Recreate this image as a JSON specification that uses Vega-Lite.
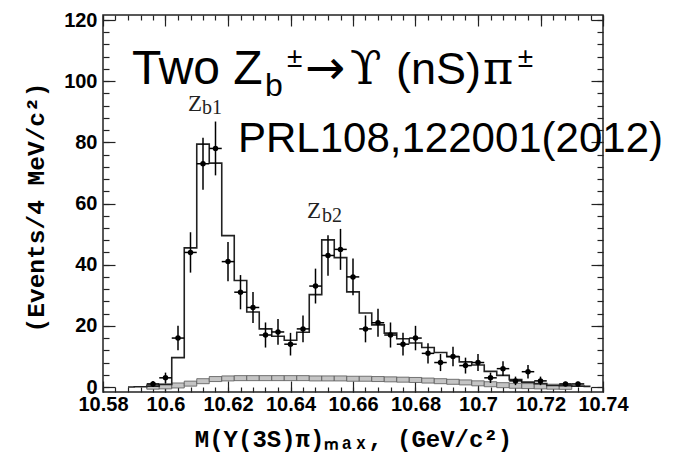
{
  "$schema": "https://vega.github.io/schema/vega-lite/v6.json",
  "width": 500,
  "height": 377,
  "autosize": "none",
  "padding": {"left": 103, "top": 15, "right": 77, "bottom": 62},
  "background": "white",
  "config": {
    "view": {"stroke": "#222", "strokeWidth": 1.5},
    "axis": {"grid": false, "tickColor": "#222", "tickWidth": 1.2, "labelFont": "Liberation Sans", "labelFontWeight": "bold", "labelFontSize": 20, "labelColor": "black", "titleFont": "Liberation Mono", "titleFontWeight": "bold", "titleColor": "black", "zindex": 1},
    "text": {"align": "left", "baseline": "alphabetic", "color": "black"}
  },
  "datasets": {
    "bins": [
      {"m": 10.588, "xl": 10.586, "xh": 10.590, "fit": 0, "bkg": 0},
      {"m": 10.592, "xl": 10.590, "xh": 10.594, "fit": 0.1, "bkg": 0},
      {"m": 10.596, "n": 1, "lo": 0, "hi": 2, "xl": 10.594, "xh": 10.598, "fit": 0.3, "bkg": 0.1},
      {"m": 10.600, "n": 3, "lo": 1.3, "hi": 4.7, "xl": 10.598, "xh": 10.602, "fit": 0.8, "bkg": 0.2},
      {"m": 10.604, "n": 16, "lo": 12, "hi": 20, "xl": 10.602, "xh": 10.606, "fit": 9.6, "bkg": 0.5},
      {"m": 10.608, "n": 44, "lo": 37.4, "hi": 50.6, "xl": 10.606, "xh": 10.610, "fit": 45.5, "bkg": 1.1},
      {"m": 10.612, "n": 73, "lo": 64.5, "hi": 81.5, "xl": 10.610, "xh": 10.614, "fit": 79.4, "bkg": 1.9},
      {"m": 10.616, "n": 78, "lo": 69.2, "hi": 86.8, "xl": 10.614, "xh": 10.618, "fit": 73.2, "bkg": 2.6},
      {"m": 10.620, "n": 41, "lo": 34.6, "hi": 47.4, "xl": 10.618, "xh": 10.622, "fit": 49.5, "bkg": 2.8},
      {"m": 10.624, "n": 31, "lo": 25.4, "hi": 36.6, "xl": 10.622, "xh": 10.626, "fit": 34.8, "bkg": 2.9},
      {"m": 10.628, "n": 26, "lo": 20.9, "hi": 31.1, "xl": 10.626, "xh": 10.630, "fit": 24.5, "bkg": 2.9},
      {"m": 10.632, "n": 17, "lo": 12.9, "hi": 21.1, "xl": 10.630, "xh": 10.634, "fit": 19.0, "bkg": 2.9},
      {"m": 10.636, "n": 18, "lo": 13.8, "hi": 22.2, "xl": 10.634, "xh": 10.638, "fit": 16.6, "bkg": 2.9},
      {"m": 10.640, "n": 14, "lo": 10.3, "hi": 17.7, "xl": 10.638, "xh": 10.642, "fit": 15.3, "bkg": 2.9},
      {"m": 10.644, "n": 19, "lo": 14.6, "hi": 23.4, "xl": 10.642, "xh": 10.646, "fit": 17.9, "bkg": 2.9},
      {"m": 10.648, "n": 33, "lo": 27.3, "hi": 38.7, "xl": 10.646, "xh": 10.650, "fit": 30.2, "bkg": 2.8},
      {"m": 10.652, "n": 43, "lo": 36.4, "hi": 49.6, "xl": 10.650, "xh": 10.654, "fit": 48.1, "bkg": 2.8},
      {"m": 10.656, "n": 45, "lo": 38.3, "hi": 51.7, "xl": 10.654, "xh": 10.658, "fit": 42.3, "bkg": 2.8},
      {"m": 10.660, "n": 36, "lo": 30, "hi": 42, "xl": 10.658, "xh": 10.662, "fit": 31.1, "bkg": 2.7},
      {"m": 10.664, "n": 19, "lo": 14.6, "hi": 23.4, "xl": 10.662, "xh": 10.666, "fit": 24.2, "bkg": 2.7},
      {"m": 10.668, "n": 21, "lo": 16.4, "hi": 25.6, "xl": 10.666, "xh": 10.670, "fit": 20.3, "bkg": 2.6},
      {"m": 10.672, "n": 17, "lo": 12.9, "hi": 21.1, "xl": 10.670, "xh": 10.674, "fit": 17.6, "bkg": 2.5},
      {"m": 10.676, "n": 14, "lo": 10.3, "hi": 17.7, "xl": 10.674, "xh": 10.678, "fit": 15.8, "bkg": 2.4},
      {"m": 10.680, "n": 16, "lo": 12, "hi": 20, "xl": 10.678, "xh": 10.682, "fit": 14.4, "bkg": 2.3},
      {"m": 10.684, "n": 11, "lo": 7.7, "hi": 14.3, "xl": 10.682, "xh": 10.686, "fit": 12.9, "bkg": 2.1},
      {"m": 10.688, "n": 8, "lo": 5.2, "hi": 10.8, "xl": 10.686, "xh": 10.690, "fit": 11.3, "bkg": 1.9},
      {"m": 10.692, "n": 10, "lo": 6.8, "hi": 13.2, "xl": 10.690, "xh": 10.694, "fit": 9.9, "bkg": 1.7},
      {"m": 10.696, "n": 7, "lo": 4.4, "hi": 9.6, "xl": 10.694, "xh": 10.698, "fit": 8.2, "bkg": 1.5},
      {"m": 10.700, "n": 8, "lo": 5.2, "hi": 10.8, "xl": 10.698, "xh": 10.702, "fit": 7.2, "bkg": 1.2},
      {"m": 10.704, "n": 3, "lo": 1.3, "hi": 4.7, "xl": 10.702, "xh": 10.706, "fit": 5.1, "bkg": 0.9},
      {"m": 10.708, "n": 6, "lo": 3.6, "hi": 8.4, "xl": 10.706, "xh": 10.710, "fit": 3.8, "bkg": 0.6},
      {"m": 10.712, "n": 2, "lo": 0.6, "hi": 3.4, "xl": 10.710, "xh": 10.714, "fit": 2.4, "bkg": 0.4},
      {"m": 10.716, "n": 5, "lo": 2.8, "hi": 7.2, "xl": 10.714, "xh": 10.718, "fit": 1.6, "bkg": 0.3},
      {"m": 10.720, "n": 2, "lo": 0.6, "hi": 3.4, "xl": 10.718, "xh": 10.722, "fit": 1.1, "bkg": 0.2},
      {"m": 10.724, "xl": 10.722, "xh": 10.726, "fit": 0.5, "bkg": 0.1},
      {"m": 10.728, "n": 1, "lo": 0.3, "hi": 1.7, "xl": 10.726, "xh": 10.730, "fit": 0.4, "bkg": 0.05},
      {"m": 10.732, "n": 1, "lo": 0.3, "hi": 1.7, "xl": 10.730, "xh": 10.734, "fit": 0.3, "bkg": 0},
      {"m": 10.736, "xl": 10.734, "xh": 10.738, "fit": 0.2, "bkg": 0}
    ]
  },
  "layer": [
    {
      "data": {"name": "bins"},
      "transform": [{"filter": "datum.bkg > 0"}],
      "mark": {"type": "bar", "fill": "#c4c4c4", "stroke": "#555", "strokeWidth": 0.8},
      "encoding": {
        "x": {"field": "xl", "type": "quantitative", "scale": {"domain": [10.58, 10.74], "nice": false, "zero": false},
              "axis": {"orient": "bottom", "values": [10.58, 10.6, 10.62, 10.64, 10.66, 10.68, 10.7, 10.72, 10.74], "format": ".2~f", "ticks": false, "domain": false, "labelPadding": 2, "labelFlush": false, "labelOverlap": false, "title": "M(Υ(3S)π)ₘₐₓ, (GeV/c²)", "titleFontSize": 24, "titleY": 54, "titleBaseline": "alphabetic"}},
        "x2": {"field": "xh"},
        "y": {"field": "bkg", "type": "quantitative", "scale": {"domain": [0, 120], "nice": false},
              "axis": {"orient": "left", "values": [0, 20, 40, 60, 80, 100, 120], "format": "d", "ticks": false, "domain": false, "labelPadding": 6, "title": "(Events/4 MeV/c²)", "titleFontSize": 24.5, "titleX": -60, "titleY": 192, "titleAngle": -90, "titleBaseline": "alphabetic"}}
      }
    },
    {
      "data": {"name": "bins"},
      "mark": {"type": "line", "interpolate": "step", "color": "#222", "strokeWidth": 1.6},
      "encoding": {
        "x": {"field": "m", "type": "quantitative", "scale": {"domain": [10.58, 10.74], "nice": false, "zero": false},
              "axis": {"orient": "bottom", "values": [10.58, 10.6, 10.62, 10.64, 10.66, 10.68, 10.7, 10.72, 10.74], "tickSize": -11, "labels": false, "domain": false, "title": null}},
        "y": {"field": "fit", "type": "quantitative", "scale": {"domain": [0, 120], "nice": false},
              "axis": {"orient": "left", "values": [0, 20, 40, 60, 80, 100, 120], "tickSize": -12, "labels": false, "domain": false, "title": null}}
      }
    },
    {
      "data": {"name": "bins"},
      "transform": [{"filter": "isValid(datum.n)"}],
      "mark": {"type": "rule", "color": "black", "strokeWidth": 1.5},
      "encoding": {
        "x": {"field": "m", "type": "quantitative", "scale": {"domain": [10.58, 10.74], "nice": false, "zero": false},
              "axis": {"orient": "bottom", "values": [10.58, 10.584, 10.588, 10.592, 10.596, 10.6, 10.604, 10.608, 10.612, 10.616, 10.62, 10.624, 10.628, 10.632, 10.636, 10.64, 10.644, 10.648, 10.652, 10.656, 10.66, 10.664, 10.668, 10.672, 10.676, 10.68, 10.684, 10.688, 10.692, 10.696, 10.7, 10.704, 10.708, 10.712, 10.716, 10.72, 10.724, 10.728, 10.732, 10.736, 10.74], "tickSize": -5, "labels": false, "domain": false, "title": null}},
        "y": {"field": "lo", "type": "quantitative", "scale": {"domain": [0, 120], "nice": false},
              "axis": {"orient": "left", "values": [0, 4, 8, 12, 16, 20, 24, 28, 32, 36, 40, 44, 48, 52, 56, 60, 64, 68, 72, 76, 80, 84, 88, 92, 96, 100, 104, 108, 112, 116, 120], "tickSize": -6, "labels": false, "domain": false, "title": null}},
        "y2": {"field": "hi"}
      }
    },
    {
      "data": {"name": "bins"},
      "transform": [{"filter": "isValid(datum.n)"}],
      "mark": {"type": "rule", "color": "black", "strokeWidth": 1.5},
      "encoding": {
        "x": {"field": "xl", "type": "quantitative", "scale": {"domain": [10.58, 10.74], "nice": false, "zero": false},
              "axis": {"orient": "top", "values": [10.58, 10.6, 10.62, 10.64, 10.66, 10.68, 10.7, 10.72, 10.74], "tickSize": -11, "labels": false, "domain": false, "title": null}},
        "x2": {"field": "xh"},
        "y": {"field": "n", "type": "quantitative", "scale": {"domain": [0, 120], "nice": false},
              "axis": {"orient": "right", "values": [0, 20, 40, 60, 80, 100, 120], "tickSize": -12, "labels": false, "domain": false, "title": null}}
      }
    },
    {
      "data": {"name": "bins"},
      "transform": [{"filter": "isValid(datum.n)"}],
      "mark": {"type": "circle", "color": "black", "opacity": 1, "size": 30},
      "encoding": {
        "x": {"field": "m", "type": "quantitative", "scale": {"domain": [10.58, 10.74], "nice": false, "zero": false},
              "axis": {"orient": "top", "values": [10.58, 10.584, 10.588, 10.592, 10.596, 10.6, 10.604, 10.608, 10.612, 10.616, 10.62, 10.624, 10.628, 10.632, 10.636, 10.64, 10.644, 10.648, 10.652, 10.656, 10.66, 10.664, 10.668, 10.672, 10.676, 10.68, 10.684, 10.688, 10.692, 10.696, 10.7, 10.704, 10.708, 10.712, 10.716, 10.72, 10.724, 10.728, 10.732, 10.736, 10.74], "tickSize": -5, "labels": false, "domain": false, "title": null}},
        "y": {"field": "n", "type": "quantitative", "scale": {"domain": [0, 120], "nice": false},
              "axis": {"orient": "right", "values": [0, 4, 8, 12, 16, 20, 24, 28, 32, 36, 40, 44, 48, 52, 56, 60, 64, 68, 72, 76, 80, 84, 88, 92, 96, 100, 104, 108, 112, 116, 120], "tickSize": -6, "labels": false, "domain": false, "title": null}}
      }
    },
    {
      "data": {"values": [{"x": 10.58928, "y": 99.0, "t": "Two Z"}]},
      "mark": {"type": "text", "font": "Liberation Sans", "fontSize": 48},
      "encoding": {
        "x": {"field": "x", "type": "quantitative", "scale": {"domain": [10.58, 10.74], "nice": false, "zero": false}, "axis": null},
        "y": {"field": "y", "type": "quantitative", "scale": {"domain": [0, 120], "nice": false}, "axis": null},
        "text": {"field": "t"}
      }
    },
    {
      "data": {"values": [{"x": 10.63184, "y": 95.2, "t": "b"}]},
      "mark": {"type": "text", "font": "Liberation Sans", "fontSize": 32},
      "encoding": {
        "x": {"field": "x", "type": "quantitative", "scale": {"domain": [10.58, 10.74], "nice": false, "zero": false}, "axis": null},
        "y": {"field": "y", "type": "quantitative", "scale": {"domain": [0, 120], "nice": false}, "axis": null},
        "text": {"field": "t"}
      }
    },
    {
      "data": {"values": [{"x": 10.63888, "y": 104.7, "t": "±"}, {"x": 10.7127, "y": 104.7, "t": "±"}]},
      "mark": {"type": "text", "font": "Liberation Sans", "fontSize": 28},
      "encoding": {
        "x": {"field": "x", "type": "quantitative", "scale": {"domain": [10.58, 10.74], "nice": false, "zero": false}, "axis": null},
        "y": {"field": "y", "type": "quantitative", "scale": {"domain": [0, 120], "nice": false}, "axis": null},
        "text": {"field": "t"}
      }
    },
    {
      "data": {"values": [{"x": 10.64464, "y": 99.0, "t": "→"}]},
      "mark": {"type": "text", "font": "DejaVu Sans", "fontSize": 48},
      "encoding": {
        "x": {"field": "x", "type": "quantitative", "scale": {"domain": [10.58, 10.74], "nice": false, "zero": false}, "axis": null},
        "y": {"field": "y", "type": "quantitative", "scale": {"domain": [0, 120], "nice": false}, "axis": null},
        "text": {"field": "t"}
      }
    },
    {
      "data": {"values": [{"x": 10.65904, "y": 99.0, "t": "ϒ"}, {"x": 10.7016, "y": 99.0, "t": "π"}]},
      "mark": {"type": "text", "font": "DejaVu Serif", "fontSize": 46},
      "encoding": {
        "x": {"field": "x", "type": "quantitative", "scale": {"domain": [10.58, 10.74], "nice": false, "zero": false}, "axis": null},
        "y": {"field": "y", "type": "quantitative", "scale": {"domain": [0, 120], "nice": false}, "axis": null},
        "text": {"field": "t"}
      }
    },
    {
      "data": {"values": [{"x": 10.67376, "y": 99.0, "t": "(nS)"}]},
      "mark": {"type": "text", "font": "Liberation Sans", "fontSize": 45},
      "encoding": {
        "x": {"field": "x", "type": "quantitative", "scale": {"domain": [10.58, 10.74], "nice": false, "zero": false}, "axis": null},
        "y": {"field": "y", "type": "quantitative", "scale": {"domain": [0, 120], "nice": false}, "axis": null},
        "text": {"field": "t"}
      }
    },
    {
      "data": {"values": [{"x": 10.6232, "y": 76.7, "t": "PRL108,122001(2012)"}]},
      "mark": {"type": "text", "font": "Liberation Sans", "fontSize": 42},
      "encoding": {
        "x": {"field": "x", "type": "quantitative", "scale": {"domain": [10.58, 10.74], "nice": false, "zero": false}, "axis": null},
        "y": {"field": "y", "type": "quantitative", "scale": {"domain": [0, 120], "nice": false}, "axis": null},
        "text": {"field": "t"}
      }
    },
    {
      "data": {"values": [{"x": 10.6072, "y": 90.4, "t": "Z"}, {"x": 10.6453, "y": 55.1, "t": "Z"}]},
      "mark": {"type": "text", "font": "Liberation Serif", "fontSize": 23, "color": "#222"},
      "encoding": {
        "x": {"field": "x", "type": "quantitative", "scale": {"domain": [10.58, 10.74], "nice": false, "zero": false}, "axis": null},
        "y": {"field": "y", "type": "quantitative", "scale": {"domain": [0, 120], "nice": false}, "axis": null},
        "text": {"field": "t"}
      }
    },
    {
      "data": {"values": [{"x": 10.6117, "y": 89.4, "t": "b1"}, {"x": 10.6501, "y": 54.1, "t": "b2"}]},
      "mark": {"type": "text", "font": "Liberation Serif", "fontSize": 20, "color": "#222"},
      "encoding": {
        "x": {"field": "x", "type": "quantitative", "scale": {"domain": [10.58, 10.74], "nice": false, "zero": false}, "axis": null},
        "y": {"field": "y", "type": "quantitative", "scale": {"domain": [0, 120], "nice": false}, "axis": null},
        "text": {"field": "t"}
      }
    }
  ],
  "resolve": {"axis": {"x": "independent", "y": "independent"}}
}
